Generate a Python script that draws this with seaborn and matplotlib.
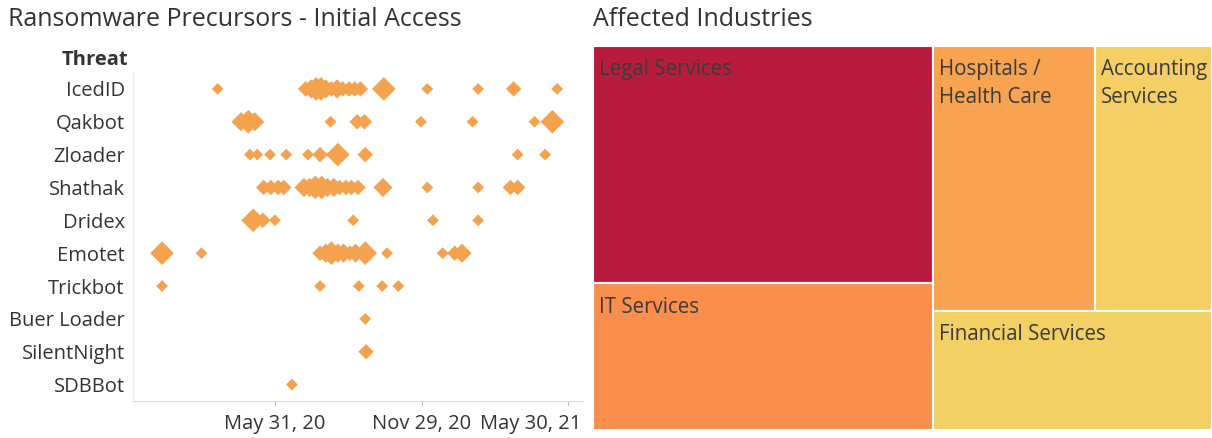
import matplotlib
matplotlib.use("Agg")
import matplotlib.pyplot as plt
import matplotlib.dates as mdates
import matplotlib.transforms as mtransforms
from matplotlib.patches import Rectangle
import pandas as pd
import seaborn as sns

# ---------------- data ----------------
threats = ["IcedID", "Qakbot", "Zloader", "Shathak", "Dridex", "Emotet",
           "Trickbot", "Buer Loader", "SilentNight", "SDBBot"]

icedid_dates = ["2020-03-21", "2020-07-08", "2020-07-15", "2020-07-21", "2020-07-27",
                "2020-08-02", "2020-08-09", "2020-08-16", "2020-08-23", "2020-08-31",
                "2020-09-07", "2020-09-14", "2020-10-13", "2020-12-06", "2021-02-07",
                "2021-03-23", "2021-05-16"]
icedid_counts = [1, 2, 3, 4, 4, 3, 2, 3, 2, 2, 2, 2, 4, 1, 1, 2, 1]

qakbot_dates = ["2020-04-19", "2020-04-28", "2020-05-06", "2020-08-08", "2020-09-10",
                "2020-09-19", "2020-11-28", "2021-01-31", "2021-04-18", "2021-05-10"]
qakbot_counts = [3, 4, 3, 1, 2, 2, 1, 1, 1, 4]

zloader_dates = ["2020-04-30", "2020-05-09", "2020-05-25", "2020-06-14", "2020-07-11",
                 "2020-07-26", "2020-08-17", "2020-09-20", "2021-03-28", "2021-05-01"]
zloader_counts = [1, 1, 1, 1, 1, 2, 4, 2, 1, 1]

shathak_dates = ["2020-05-17", "2020-05-26", "2020-06-04", "2020-06-11", "2020-07-06",
                 "2020-07-13", "2020-07-20", "2020-07-28", "2020-08-04", "2020-08-12",
                 "2020-08-19", "2020-08-27", "2020-09-03", "2020-09-11", "2020-10-12",
                 "2020-12-06", "2021-02-07", "2021-03-19", "2021-03-28"]
shathak_counts = [2, 2, 2, 2, 3, 3, 4, 4, 3, 3, 2, 2, 2, 2, 3, 1, 1, 2, 2]

dridex_dates = ["2020-05-04", "2020-05-16", "2020-05-31", "2020-09-05", "2020-12-13",
                "2021-02-07"]
dridex_counts = [4, 2, 1, 1, 1, 1]

emotet_dates = ["2020-01-12", "2020-03-01", "2020-07-26", "2020-08-02", "2020-08-09",
                "2020-08-17", "2020-08-24", "2020-09-01", "2020-09-08", "2020-09-20",
                "2020-10-17", "2020-12-25", "2021-01-09", "2021-01-18"]
emotet_counts = [4, 1, 2, 3, 4, 3, 3, 2, 3, 4, 1, 1, 2, 3]

trickbot_dates = ["2020-01-12", "2020-07-26", "2020-09-12", "2020-10-11", "2020-10-31"]
trickbot_counts = [1, 1, 1, 1, 1]

buer_dates = ["2020-09-20"]
buer_counts = [1]

silentnight_dates = ["2020-09-21"]
silentnight_counts = [2]

sdbbot_dates = ["2020-06-21"]
sdbbot_counts = [1]

tick_dates = ["2020-05-31", "2020-11-29", "2021-05-30"]
x_range = ["2019-12-07", "2021-06-17"]

industries = ["Legal Services", "IT Services", "Hospitals /\nHealth Care",
              "Accounting\nServices", "Financial Services"]
industry_values = [34, 21, 18, 13, 14]
industry_colors = ["#B71C3C", "#FA8E4C", "#F7A350", "#F3CF66", "#F2D064"]

# ---------------- build table ----------------
series = [icedid_dates, qakbot_dates, zloader_dates, shathak_dates, dridex_dates,
          emotet_dates, trickbot_dates, buer_dates, silentnight_dates, sdbbot_dates]
counts = [icedid_counts, qakbot_counts, zloader_counts, shathak_counts, dridex_counts,
          emotet_counts, trickbot_counts, buer_counts, silentnight_counts, sdbbot_counts]
rows = []
for t, ds, cs in zip(threats, series, counts):
    for d, c in zip(ds, cs):
        rows.append({"threat": t, "date": pd.Timestamp(d), "count": c})
df = pd.DataFrame(rows)

# ---------------- style ----------------
sns.set_theme(style="white")
plt.rcParams["font.family"] = ["Open Sans", "DejaVu Sans"]
TXT = "#333333"
LABEL_FS = 14.5
TITLE_FS = 18

W, H = 1212, 438
fig = plt.figure(figsize=(W / 100, H / 100), dpi=100)
fig.patch.set_facecolor("white")

def px_axes(x0, y0, x1, y1):
    return fig.add_axes([x0 / W, 1 - y1 / H, (x1 - x0) / W, (y1 - y0) / H])

# ---------------- left: scatter ----------------
ax = px_axes(133, 72.5, 583, 401)
sns.scatterplot(data=df, x="date", y="threat", size="count",
                sizes={1: 36, 2: 62, 3: 95, 4: 145}, marker="D",
                color="#F5A24F", linewidth=0, alpha=1, legend=False, ax=ax)
ax.set_ylim(len(threats) - 0.5, -0.5)
ax.set_xlim(pd.Timestamp(x_range[0]), pd.Timestamp(x_range[1]))
ax.set_xticks([pd.Timestamp(d) for d in tick_dates])
ax.xaxis.set_major_formatter(mdates.DateFormatter("%b %d, %y"))
ax.set_xlabel("")
ax.set_ylabel("")
ax.tick_params(axis="y", length=0, pad=6, labelsize=LABEL_FS, labelcolor=TXT)
ax.tick_params(axis="x", bottom=True, length=3, width=0.8, color="#BBBBBB",
               pad=6, labelsize=LABEL_FS, labelcolor=TXT)
for s in ["top", "right"]:
    ax.spines[s].set_visible(False)
ax.spines["left"].set_color("#EEEEEE")
ax.spines["left"].set_linewidth(0.8)
ax.spines["bottom"].set_color("#DDDDDD")
ax.spines["bottom"].set_linewidth(0.8)
ax.grid(False)

# keep the last date label inside the pane (as in the original)
last = ax.get_xticklabels()[-1]
last.set_horizontalalignment("right")
last.set_transform(last.get_transform() +
                   mtransforms.ScaledTranslation(13 / 100, 0, fig.dpi_scale_trans))

fig.text(8 / W, 1 - 19 / H, "Ransomware Precursors - Initial Access",
         ha="left", va="center", fontsize=TITLE_FS, color=TXT)
fig.text(128 / W, 1 - 60 / H, "Threat", ha="right", va="center",
         fontsize=LABEL_FS, fontweight="bold", color=TXT)

# ---------------- right: treemap ----------------
tx = px_axes(593, 46, 1212, 430)
tx.set_xlim(0, 1)
tx.set_ylim(1, 0)
tx.axis("off")

vals = dict(zip(industries, industry_values))
cols = dict(zip(industries, industry_colors))
total = sum(industry_values)
legal, it, hosp, acc, fin = industries
left_w = (vals[legal] + vals[it]) / total
legal_h = vals[legal] / (vals[legal] + vals[it])
right_w = 1 - left_w
top_h = (vals[hosp] + vals[acc]) / (vals[hosp] + vals[acc] + vals[fin])
hosp_w = right_w * vals[hosp] / (vals[hosp] + vals[acc])

rects = {
    legal: (0, 0, left_w, legal_h),
    it: (0, legal_h, left_w, 1 - legal_h),
    hosp: (left_w, 0, hosp_w, top_h),
    acc: (left_w + hosp_w, 0, right_w - hosp_w, top_h),
    fin: (left_w, top_h, right_w, 1 - top_h),
}
pad_x = 6 / 619
pad_y = 13.5 / 384
for name in industries:
    x0, y0, w, h = rects[name]
    tx.add_patch(Rectangle((x0, y0), w, h, facecolor=cols[name],
                           edgecolor="white", linewidth=1.5))
    tx.text(x0 + pad_x, y0 + pad_y, name, ha="left", va="top",
            fontsize=14.8, color="#3a3a3a", linespacing=1.38)

fig.text(593 / W, 1 - 19 / H, "Affected Industries", ha="left", va="center",
         fontsize=TITLE_FS, color=TXT)

fig.savefig("out.png", dpi=100, facecolor="white")
